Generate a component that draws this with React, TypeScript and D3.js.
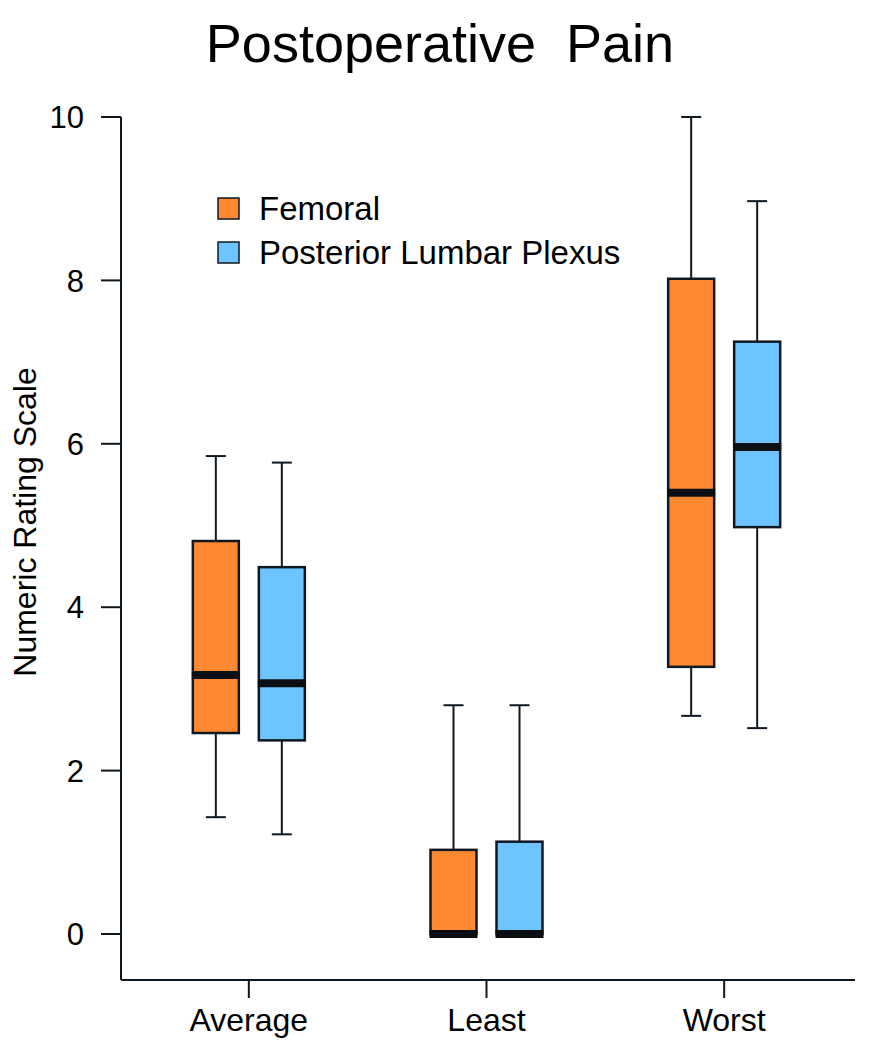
import React from 'react';
import * as d3 from 'd3';

// categories and series
const groups = ['Average', 'Least', 'Worst'];
const series = ['Femoral', 'Posterior Lumbar Plexus'];
const seriesColors = ['#FF8833', '#6EC4FF'];
const yTicks = [0, 2, 4, 6, 8, 10];

// [low whisker, Q1, median, Q3, high whisker] per group
const femoralStats = [
  [1.43, 2.46, 3.17, 4.81, 5.85],
  [0, 0, 0, 1.03, 2.8],
  [2.67, 3.27, 5.4, 8.02, 10],
];
const posteriorStats = [
  [1.22, 2.37, 3.07, 4.49, 5.77],
  [0, 0, 0, 1.13, 2.8],
  [2.52, 4.98, 5.96, 7.25, 8.97],
];

const W = 871;
const H = 1050;
const FONT = '"Liberation Sans", Arial, sans-serif';
const STROKE = '#0f1820';

export default function App() {
  const y = d3.scaleLinear().domain([0, 10]).range([934, 117]);
  const x = d3.scaleBand().domain(groups).range([130, 843]).padding(0);
  const inner = d3.scalePoint().domain(series).range([-33, 33]);
  const boxW = 46;
  const capW = 20;
  const allStats = [femoralStats, posteriorStats];

  const axisLeft = 121;
  const axisBottom = 980;

  return (
    <svg width={W} height={H} style={{ display: 'block', position: 'absolute', left: 0, top: 0 }}>
      <rect width={W} height={H} fill="#fff" />
      <text x={440} y={62} textAnchor="middle" fontFamily={FONT} fontSize={54} fill="#000">
        Postoperative{'\u00a0\u00a0'}Pain
      </text>

      {/* y axis */}
      <line x1={axisLeft} x2={axisLeft} y1={y(10)} y2={axisBottom} stroke={STROKE} strokeWidth={2} />
      {yTicks.map(t => (
        <g key={t}>
          <line x1={101} x2={axisLeft} y1={y(t)} y2={y(t)} stroke={STROKE} strokeWidth={2} />
          <text x={84} y={y(t)} dy="0.36em" textAnchor="end" fontFamily={FONT} fontSize={31} fill="#000">
            {t}
          </text>
        </g>
      ))}
      <text
        transform={`translate(36, 522) rotate(-90)`}
        textAnchor="middle"
        fontFamily={FONT}
        fontSize={32}
        fill="#000"
      >
        Numeric Rating Scale
      </text>

      {/* x axis */}
      <line x1={axisLeft} x2={855} y1={axisBottom} y2={axisBottom} stroke={STROKE} strokeWidth={2} />
      {groups.map(g => {
        const cx = (x(g) as number) + x.bandwidth() / 2;
        return (
          <g key={g}>
            <line x1={cx} x2={cx} y1={axisBottom} y2={998} stroke={STROKE} strokeWidth={2} />
            <text x={cx} y={1031} textAnchor="middle" fontFamily={FONT} fontSize={32} fill="#000">
              {g}
            </text>
          </g>
        );
      })}

      {/* boxes */}
      {series.map((s, si) =>
        groups.map((g, gi) => {
          const [lo, q1, med, q3, hi] = allStats[si][gi];
          const cx = (x(g) as number) + x.bandwidth() / 2 + (inner(s) as number);
          return (
            <g key={s + g}>
              <line x1={cx} x2={cx} y1={y(hi)} y2={y(q3)} stroke={STROKE} strokeWidth={2} />
              <line x1={cx} x2={cx} y1={y(q1)} y2={y(lo)} stroke={STROKE} strokeWidth={2} />
              <line x1={cx - capW / 2} x2={cx + capW / 2} y1={y(hi)} y2={y(hi)} stroke={STROKE} strokeWidth={2} />
              <line x1={cx - capW / 2} x2={cx + capW / 2} y1={y(lo)} y2={y(lo)} stroke={STROKE} strokeWidth={2} />
              <rect
                x={cx - boxW / 2}
                y={y(q3)}
                width={boxW}
                height={y(q1) - y(q3)}
                fill={seriesColors[si]}
                stroke={STROKE}
                strokeWidth={2.5}
              />
              <line
                x1={cx - boxW / 2 - 1}
                x2={cx + boxW / 2 + 1}
                y1={y(med)}
                y2={y(med)}
                stroke="#0a0f14"
                strokeWidth={8}
              />
            </g>
          );
        })
      )}

      {/* legend */}
      {series.map((s, si) => (
        <g key={s} transform={`translate(218, ${198 + si * 44})`}>
          <rect x={0} y={0} width={21} height={21} fill={seriesColors[si]} stroke={STROKE} strokeWidth={1.5} />
          <text x={41} y={22} fontFamily={FONT} fontSize={33} fill="#000">
            {s}
          </text>
        </g>
      ))}
    </svg>
  );
}
